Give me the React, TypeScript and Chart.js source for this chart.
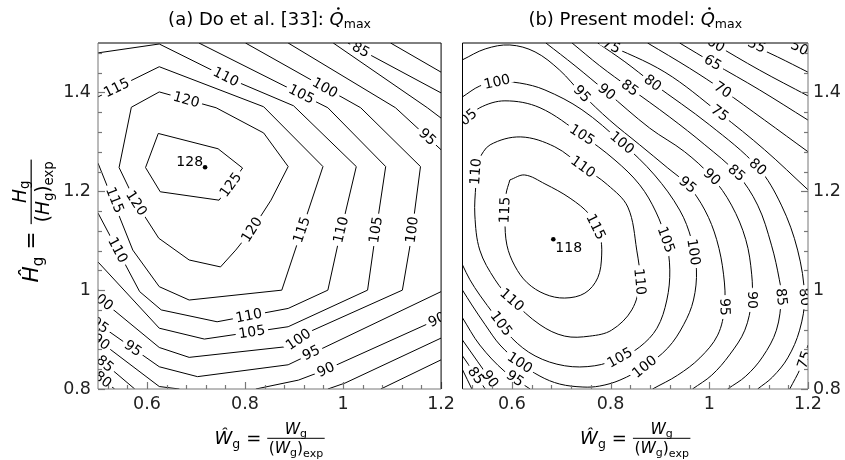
import React, { useEffect, useRef } from "react";
import { Chart, registerables } from "chart.js";
Chart.register(...registerables);

type P = [number, number];

const F = '"DejaVu Sans", sans-serif';
const xTicks = [0.6, 0.8, 1.0, 1.2];
const yTicks = [0.8, 1.0, 1.2, 1.4];
const minorStep = 0.04;
const xRange: P = [0.5, 1.2];
const yRange: P = [0.8, 1.5];

// ---------- (a) Do et al. [33] contours ----------
const a125: P[] = [[0.623,1.317],[0.745,1.286],[0.795,1.247],[0.747,1.182],[0.627,1.199],[0.597,1.248],[0.623,1.317]];
const a120: P[] = [[0.568,1.370],[0.625,1.401],[0.741,1.369],[0.838,1.318],[0.888,1.250],[0.853,1.182],[0.814,1.122],[0.781,1.081],[0.750,1.047],[0.686,1.061],[0.624,1.105],[0.578,1.176],[0.543,1.248],[0.568,1.370]];
const a115: P[] = [[0.5,1.391],[0.625,1.452],[0.838,1.371],[0.959,1.250],[0.875,1.000],[0.686,0.980],[0.625,1.007],[0.571,1.081],[0.5,1.257]];
const a110: P[] = [[0.5,1.480],[0.625,1.498],[0.761,1.431],[0.899,1.373],[1.027,1.250],[0.990,1.095],[0.969,1.000],[0.888,0.963],[0.743,0.936],[0.629,0.960],[0.585,0.997],[0.5,1.156]];
const a105: P[] = [[0.706,1.5],[0.969,1.369],[1.087,1.250],[1.064,1.098],[1.050,1.000],[0.888,0.926],[0.717,0.901],[0.625,0.923],[0.5,1.057]];
const a100: P[] = [[0.801,1.5],[1.036,1.369],[1.158,1.250],[1.138,1.098],[1.121,1.000],[0.932,0.916],[0.888,0.886],[0.686,0.864],[0.625,0.884],[0.5,0.986]];
const a95a: P[] = [[0.888,1.5],[1.107,1.369],[1.2,1.284]];
const a95b: P[] = [[1.2,0.997],[0.888,0.849],[0.703,0.825],[0.625,0.845],[0.5,0.932]];
const a90a: P[] = [[0.980,1.5],[1.172,1.369],[1.2,1.348]];
const a90b: P[] = [[1.2,0.944],[0.965,0.839],[0.909,0.818],[0.822,0.8]];
const a90c: P[] = [[0.5,0.899],[0.625,0.805],[0.666,0.8]];
const a85a: P[] = [[1.010,1.5],[1.2,1.399]];
const a85b: P[] = [[1.2,0.903],[1.004,0.812],[0.969,0.8]];
const a85c: P[] = [[0.5,0.863],[0.575,0.8]];
const a80a: P[] = [[1.097,1.5],[1.2,1.441]];
const a80b: P[] = [[1.2,0.859],[1.077,0.8]];
const a80c: P[] = [[0.5,0.826],[0.534,0.8]];

// label: [level, x, y]
const aLabels: number[][] = [
  [110,0.761,1.431],[115,0.538,1.409],[120,0.680,1.385],[105,0.915,1.396],[100,0.963,1.409],
  [85,1.036,1.486],[95,1.172,1.310],[125,0.771,1.213],[120,0.578,1.176],[120,0.814,1.122],
  [115,0.534,1.182],[115,0.916,1.122],[110,0.996,1.122],[105,1.067,1.122],[100,1.141,1.122],
  [110,0.540,1.081],[110,0.808,0.948],[105,0.814,0.915],[100,0.909,0.900],[95,0.935,0.873],
  [90,0.965,0.839],[95,0.571,0.882],[85,0.514,0.851],[100,0.506,0.981],[95,0.504,0.929],
  [90,0.506,0.895],[80,0.510,0.819],[90,1.192,0.940],
];
const aMax: P = [0.7185, 1.2485];
const aMaxValue = 128;

// ---------- (b) Present model contours ----------
const b115: P[] = [[0.596,1.223],[0.626,1.233],[0.667,1.215],[0.718,1.186],[0.758,1.152],[0.778,1.112],[0.782,1.071],[0.774,1.025],[0.748,0.994],[0.707,0.984],[0.667,0.992],[0.631,1.015],[0.606,1.049],[0.590,1.091],[0.586,1.142],[0.588,1.193],[0.596,1.223]];
const b110: P[] = [[0.531,1.263],[0.556,1.294],[0.618,1.310],[0.687,1.290],[0.744,1.249],[0.794,1.213],[0.835,1.168],[0.853,1.081],[0.859,1.017],[0.843,0.960],[0.802,0.919],[0.758,0.907],[0.707,0.907],[0.657,0.930],[0.600,0.980],[0.566,1.021],[0.535,1.081],[0.525,1.152],[0.527,1.213],[0.531,1.263]];
const b105: P[] = [[0.5,1.340],[0.535,1.369],[0.586,1.383],[0.657,1.369],[0.742,1.314],[0.809,1.263],[0.859,1.213],[0.892,1.158],[0.912,1.102],[0.920,1.041],[0.914,0.980],[0.894,0.923],[0.859,0.885],[0.819,0.863],[0.768,0.847],[0.707,0.847],[0.647,0.867],[0.600,0.903],[0.566,0.948],[0.535,0.990],[0.515,1.021],[0.5,1.051]];
const b100: P[] = [[0.5,1.391],[0.535,1.413],[0.570,1.421],[0.616,1.419],[0.667,1.405],[0.742,1.365],[0.823,1.298],[0.889,1.233],[0.940,1.162],[0.964,1.102],[0.974,1.041],[0.968,0.980],[0.948,0.930],[0.916,0.883],[0.869,0.845],[0.819,0.818],[0.778,0.806],[0.744,0.804],[0.697,0.810],[0.657,0.826],[0.616,0.853],[0.576,0.889],[0.546,0.930],[0.519,0.970],[0.5,1.000]];
const b95a: P[] = [[0.5,1.466],[0.546,1.488],[0.596,1.496],[0.647,1.482],[0.697,1.445],[0.742,1.397],[0.798,1.344],[0.859,1.294],[0.916,1.247],[0.956,1.213],[0.991,1.162],[1.015,1.102],[1.029,1.031],[1.031,0.966],[1.017,0.909],[0.981,0.863],[0.936,0.828],[0.885,0.8]];
const b95b: P[] = [[0.5,0.944],[0.535,0.889],[0.586,0.835],[0.637,0.8]];
const b90a: P[] = [[0.669,1.5],[0.728,1.454],[0.792,1.401],[0.879,1.328],[0.950,1.280],[1.005,1.229],[1.045,1.172],[1.074,1.102],[1.086,1.031],[1.086,0.980],[1.072,0.919],[1.041,0.869],[1.005,0.828],[0.966,0.8]];
const b90b: P[] = [[0.5,0.899],[0.531,0.855],[0.570,0.8]];
const b85a: P[] = [[0.722,1.5],[0.778,1.454],[0.839,1.409],[0.920,1.350],[0.991,1.294],[1.055,1.237],[1.098,1.172],[1.126,1.091],[1.142,1.021],[1.146,0.986],[1.136,0.919],[1.108,0.865],[1.074,0.826],[1.037,0.8]];
const b85b: P[] = [[0.5,0.867],[0.546,0.8]];
const b80a: P[] = [[0.774,1.5],[0.829,1.462],[0.885,1.419],[1.001,1.334],[1.098,1.249],[1.146,1.172],[1.179,1.081],[1.193,0.986],[1.183,0.919],[1.159,0.863],[1.128,0.824],[1.098,0.8]];
const b80b: P[] = [[0.5,0.839],[0.519,0.8]];
const b75a: P[] = [[0.788,1.5],[0.910,1.441],[1.021,1.358],[1.112,1.284],[1.2,1.203]];
const b75b: P[] = [[1.2,0.889],[1.185,0.843],[1.163,0.8]];
const b70: P[] = [[0.875,1.5],[0.960,1.449],[1.027,1.405],[1.112,1.344],[1.2,1.280]];
const b65: P[] = [[0.940,1.5],[1.007,1.460],[1.102,1.405],[1.2,1.344]];
const b60: P[] = [[1.007,1.5],[1.102,1.445],[1.2,1.393]];
const b55: P[] = [[1.078,1.5],[1.138,1.472],[1.2,1.441]];
const b50: P[] = [[1.163,1.5],[1.2,1.482]];

const bLabels: number[][] = [
  [100,0.570,1.421],[95,0.742,1.397],[90,0.792,1.401],[85,0.839,1.409],[80,0.885,1.419],
  [75,0.802,1.494],[65,1.007,1.460],[70,1.027,1.405],[75,1.021,1.358],[60,1.013,1.497],
  [55,1.096,1.495],[50,1.183,1.490],[105,0.505,1.344],[110,0.527,1.240],[115,0.586,1.162],
  [105,0.742,1.314],[100,0.823,1.298],[110,0.744,1.249],[115,0.770,1.128],[95,0.956,1.213],
  [90,1.005,1.229],[85,1.055,1.237],[80,1.098,1.249],[110,0.859,1.017],[105,0.912,1.102],
  [100,0.968,1.077],[95,1.031,0.966],[90,1.086,0.980],[85,1.146,0.986],[80,1.193,0.986],
  [75,1.193,0.859],[110,0.600,0.980],[105,0.578,0.932],[100,0.616,0.853],[105,0.819,0.863],
  [100,0.869,0.845],[95,0.606,0.821],[90,0.556,0.820],[85,0.527,0.827],
];
const bMax: P = [0.684, 1.103];
const bMaxValue = 118;

type Contour = { level: number; pts: P[] };
const aContours: Contour[] = [
  { level: 125, pts: a125 }, { level: 120, pts: a120 }, { level: 115, pts: a115 },
  { level: 110, pts: a110 }, { level: 105, pts: a105 }, { level: 100, pts: a100 },
  { level: 95, pts: a95a }, { level: 95, pts: a95b }, { level: 90, pts: a90a },
  { level: 90, pts: a90b }, { level: 90, pts: a90c }, { level: 85, pts: a85a },
  { level: 85, pts: a85b }, { level: 85, pts: a85c }, { level: 80, pts: a80a },
  { level: 80, pts: a80b }, { level: 80, pts: a80c },
];
const bContours: Contour[] = [
  { level: 115, pts: b115 }, { level: 110, pts: b110 }, { level: 105, pts: b105 },
  { level: 100, pts: b100 }, { level: 95, pts: b95a }, { level: 95, pts: b95b },
  { level: 90, pts: b90a }, { level: 90, pts: b90b }, { level: 85, pts: b85a },
  { level: 85, pts: b85b }, { level: 80, pts: b80a }, { level: 80, pts: b80b },
  { level: 75, pts: b75a }, { level: 75, pts: b75b }, { level: 70, pts: b70 },
  { level: 65, pts: b65 }, { level: 60, pts: b60 }, { level: 55, pts: b55 }, { level: 50, pts: b50 },
];

function drawFracLabel(ctx: CanvasRenderingContext2D, hat: string, sym: string) {
  const M = 18, Fr = 15.5, Sm = 12.5, Sf = 11;
  ctx.textAlign = "left";
  ctx.textBaseline = "alphabetic";
  ctx.font = `italic ${M}px ${F}`; const wHat = ctx.measureText(hat).width;
  ctx.font = `${Sm}px ${F}`; const wg = ctx.measureText("g").width;
  ctx.font = `${M}px ${F}`; const wEq = ctx.measureText("=").width;
  ctx.font = `italic ${Fr}px ${F}`; const wSym = ctx.measureText(sym).width;
  ctx.font = `${Sf}px ${F}`; const wgs = ctx.measureText("g").width; const wexp = ctx.measureText("exp").width;
  ctx.font = `${Fr}px ${F}`; const wpar = ctx.measureText("(").width;
  const numW = wSym + wgs;
  const denW = wpar * 2 + wSym + wgs + wexp;
  const fw = Math.max(numW, denW) + 3;
  const gap = 6;
  const total = wHat + wg + gap + wEq + gap + fw;
  let x = -total / 2;
  ctx.font = `italic ${M}px ${F}`; ctx.fillText(hat, x, 0); x += wHat;
  ctx.font = `${Sm}px ${F}`; ctx.fillText("g", x, 4); x += wg + gap;
  ctx.font = `${M}px ${F}`; ctx.fillText("=", x, 0); x += wEq + gap;
  const barY = -5.7;
  ctx.fillRect(x, barY - 0.5, fw, 1);
  let nx = x + (fw - numW) / 2;
  ctx.font = `italic ${Fr}px ${F}`; ctx.fillText(sym, nx, barY - 4.5); nx += wSym;
  ctx.font = `${Sf}px ${F}`; ctx.fillText("g", nx, barY - 1.5);
  let dx = x + (fw - denW) / 2;
  const dB = barY + 15;
  ctx.font = `${Fr}px ${F}`; ctx.fillText("(", dx, dB); dx += wpar;
  ctx.font = `italic ${Fr}px ${F}`; ctx.fillText(sym, dx, dB); dx += wSym;
  ctx.font = `${Sf}px ${F}`; ctx.fillText("g", dx, dB + 3); dx += wgs;
  ctx.font = `${Fr}px ${F}`; ctx.fillText(")", dx, dB); dx += wpar;
  ctx.font = `${Sf}px ${F}`; ctx.fillText("exp", dx, dB + 3.5);
}

function drawTitle(ctx: CanvasRenderingContext2D, cx: number, by: number, prefix: string) {
  ctx.textAlign = "left";
  ctx.textBaseline = "alphabetic";
  ctx.font = `18px ${F}`; const w0 = ctx.measureText(prefix).width;
  ctx.font = `italic 18px ${F}`; const wq = ctx.measureText("Q").width;
  ctx.font = `12.5px ${F}`; const wm = ctx.measureText("max").width;
  let x = cx - (w0 + wq + wm) / 2;
  ctx.font = `18px ${F}`; ctx.fillText(prefix, x, by); x += w0;
  ctx.font = `italic 18px ${F}`; ctx.fillText("Q", x, by);
  ctx.beginPath(); ctx.arc(x + wq * 0.62, by - 16.5, 1.3, 0, Math.PI * 2); ctx.fill();
  x += wq;
  ctx.font = `12.5px ${F}`; ctx.fillText("max", x, by + 3);
}

function tickValues(lo: number, hi: number, step: number): number[] {
  const out: number[] = [];
  const start = Math.ceil(lo / step - 1e-9);
  const end = Math.floor(hi / step + 1e-9);
  for (let k = start; k <= end; k++) out.push(+(k * step).toFixed(4));
  return out;
}

function makeChart(canvas: HTMLCanvasElement, side: "left" | "right", contours: Contour[], labels: number[][], smooth: boolean, max: P, maxValue: number, title: string) {
  const clabels = {
    id: "clabels",
    afterDatasetsDraw(chart: any) {
      const { ctx, chartArea, scales } = chart;
      const xs = scales.x, ys = scales.y;
      ctx.save();
      ctx.beginPath();
      ctx.rect(chartArea.left, chartArea.top, chartArea.right - chartArea.left, chartArea.bottom - chartArea.top);
      ctx.clip();
      ctx.font = `14px ${F}`;
      for (const [lvl, lx, ly] of labels) {
        const px = xs.getPixelForValue(lx), py = ys.getPixelForValue(ly);
        let best = Infinity, ang = 0;
        for (const c of contours) {
          if (c.level !== lvl) continue;
          for (let i = 0; i < c.pts.length - 1; i++) {
            const x1 = xs.getPixelForValue(c.pts[i][0]), y1 = ys.getPixelForValue(c.pts[i][1]);
            const x2 = xs.getPixelForValue(c.pts[i + 1][0]), y2 = ys.getPixelForValue(c.pts[i + 1][1]);
            const dx = x2 - x1, dy = y2 - y1;
            const L = dx * dx + dy * dy || 1;
            let t = ((px - x1) * dx + (py - y1) * dy) / L;
            t = Math.max(0, Math.min(1, t));
            const qx = x1 + t * dx - px, qy = y1 + t * dy - py;
            const d = qx * qx + qy * qy;
            if (d < best) { best = d; ang = Math.atan2(dy, dx); }
          }
        }
        if (ang > Math.PI / 2) ang -= Math.PI;
        if (ang < -Math.PI / 2) ang += Math.PI;
        const text = String(lvl);
        const w = ctx.measureText(text).width;
        ctx.save();
        ctx.translate(px, py);
        ctx.rotate(ang);
        ctx.fillStyle = "#fff";
        ctx.fillRect(-w / 2 - 3, -4, w + 6, 8);
        ctx.fillStyle = "#000";
        ctx.textAlign = "center";
        ctx.textBaseline = "middle";
        ctx.fillText(text, 0, 0.5);
        ctx.restore();
      }
      const mx = xs.getPixelForValue(max[0]), my = ys.getPixelForValue(max[1]);
      ctx.fillStyle = "#000";
      ctx.font = `14px ${F}`;
      if (side === "left") {
        ctx.textAlign = "right"; ctx.textBaseline = "alphabetic";
        ctx.fillText(String(maxValue), mx - 2, my - 1);
      } else {
        ctx.textAlign = "left"; ctx.textBaseline = "top";
        ctx.fillText(String(maxValue), mx + 2, my + 2);
      }
      ctx.restore();
    },
  };
  const frame = {
    id: "frame",
    afterDraw(chart: any) {
      const { ctx, chartArea, scales } = chart;
      const { left, right, top, bottom } = chartArea;
      const xs = scales.x, ys = scales.y;
      const gray = "#777777";
      ctx.save();
      ctx.lineWidth = 1;
      const line = (x1: number, y1: number, x2: number, y2: number, c: string) => {
        ctx.strokeStyle = c; ctx.beginPath(); ctx.moveTo(x1, y1); ctx.lineTo(x2, y2); ctx.stroke();
      };
      const isMajor = (v: number) => Math.abs(v * 5 - Math.round(v * 5)) < 1e-6;
      const xt = tickValues(xRange[0], xRange[1], minorStep);
      const yt = tickValues(yRange[0], yRange[1], minorStep);
      ctx.lineWidth = 1.2;
      for (let i = 0; i < xt.length; i++) {
        const v = xt[i];
        const px = Math.round(xs.getPixelForValue(v)) + 0.5;
        const len = isMajor(v) ? 7 : 4;
        line(px, bottom, px, bottom - len, gray);
      }
      for (let i = 0; i < yt.length; i++) {
        const v = yt[i];
        const py = Math.round(ys.getPixelForValue(v)) + 0.5;
        const len = isMajor(v) ? 7 : 4;
        if (side === "left") line(left, py, left + len, py, gray);
        else line(right, py, right - len, py, gray);
      }
      ctx.lineWidth = 1;
      line(left, top, right, top, "#000");
      if (side === "left") {
        line(right, top, right, bottom, "#000");
        line(left, top, left, bottom, gray);
      } else {
        line(left, top, left, bottom, "#000");
        line(right, top, right, bottom, gray);
      }
      line(left, bottom, right, bottom, gray);
      ctx.fillStyle = "#000";
      const cx = (left + right) / 2;
      drawTitle(ctx, cx, 25, title);
      ctx.save();
      ctx.translate(cx, 444);
      drawFracLabel(ctx, "\u0174", "W");
      ctx.restore();
      if (side === "left") {
        ctx.save();
        ctx.translate(38, 221);
        ctx.rotate(-Math.PI / 2);
        ctx.scale(1.2, 1.2);
        drawFracLabel(ctx, "\u0124", "H");
        ctx.restore();
      }
      ctx.restore();
    },
  };

  const datasets: any[] = contours.map((c) => ({
    data: c.pts.map(([x, y]) => ({ x, y })),
    showLine: true,
    borderColor: "#000",
    borderWidth: 1,
    pointRadius: 0,
    pointHoverRadius: 0,
    tension: smooth ? 0.35 : 0,
    fill: false,
  }));
  datasets.push({
    data: [{ x: max[0], y: max[1] }],
    showLine: false,
    pointRadius: 2.3,
    backgroundColor: "#000",
    borderColor: "#000",
    borderWidth: 0,
  });

  const tickFont = { family: F, size: 17.5 };
  return new Chart(canvas, {
    type: "scatter",
    data: { datasets },
    options: {
      animation: false,
      responsive: false,
      events: [],
      layout: {
        padding: side === "left" ? { left: 0, right: 16, top: 43, bottom: 0 } : { left: 10.5, right: 0, top: 43, bottom: 0 },
      },
      plugins: { legend: { display: false }, tooltip: { enabled: false } },
      scales: {
        x: {
          type: "linear",
          position: "bottom",
          min: xRange[0],
          max: xRange[1],
          grid: { display: false, drawTicks: false },
          border: { display: false },
          ticks: {
            font: tickFont,
            color: "#222",
            padding: 5,
            maxRotation: 0,
            callback: (v: any) => (Math.abs(v - 1) < 1e-9 ? "1" : Number(v).toFixed(1)),
          },
          afterBuildTicks: (s: any) => { s.ticks = xTicks.map((v) => ({ value: v })); },
          afterFit: (s: any) => { s.height = 71; },
        },
        y: {
          type: "linear",
          position: side === "left" ? "left" : "right",
          min: yRange[0],
          max: yRange[1],
          grid: { display: false, drawTicks: false },
          border: { display: false },
          ticks: {
            font: tickFont,
            color: "#222",
            padding: side === "left" ? 7 : 5,
            callback: (v: any) => (Math.abs(v - 1) < 1e-9 ? "1" : Number(v).toFixed(1)),
          },
          afterBuildTicks: (s: any) => { s.ticks = yTicks.map((v) => ({ value: v })); },
          afterFit: (s: any) => { s.width = side === "left" ? 98 : 37; },
        },
      },
    } as any,
    plugins: [clabels, frame],
  });
}

export default function App() {
  const leftRef = useRef<HTMLCanvasElement>(null);
  const rightRef = useRef<HTMLCanvasElement>(null);
  useEffect(() => {
    const c1 = makeChart(leftRef.current!, "left", aContours, aLabels, false, aMax, aMaxValue, "(a) Do et al. [33]: ");
    const c2 = makeChart(rightRef.current!, "right", bContours, bLabels, true, bMax, bMaxValue, "(b) Present model: ");
    return () => { c1.destroy(); c2.destroy(); };
  }, []);
  return (
    <div style={{ position: "absolute", left: 0, top: 0, width: 845, height: 460, background: "#fff", overflow: "hidden" }}>
      <canvas ref={leftRef} width={460} height={460} style={{ position: "absolute", left: 0, top: 0, width: 460, height: 460 }} />
      <canvas ref={rightRef} width={393} height={460} style={{ position: "absolute", left: 452, top: 0, width: 393, height: 460 }} />
    </div>
  );
}
